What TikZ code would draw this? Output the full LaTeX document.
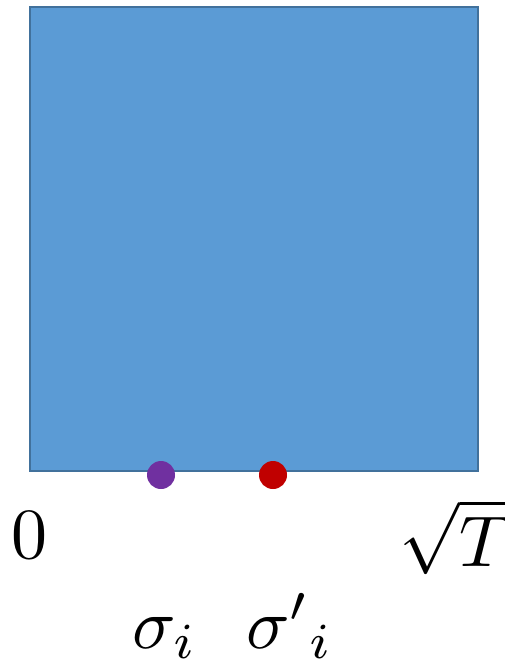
\documentclass[tikz,border=0pt]{standalone}
\usepackage{amsmath}
\usepackage{graphicx}
\definecolor{boxfill}{HTML}{5B9BD5}
\definecolor{boxline}{HTML}{41719C}
\definecolor{dotpurple}{HTML}{7030A0}
\definecolor{dotred}{HTML}{C00000}
\newcommand{\bigmath}[1]{\scalebox{7.2}{$#1$}}
\begin{document}
\begin{tikzpicture}[x=1pt,y=-1pt,
  lbl/.style={inner sep=0pt,anchor=base},
  dotmark/.style={circle,inner sep=0pt,minimum size=28pt}]
\useasboundingbox (0,0) rectangle (505,672);
\draw[fill=boxfill,draw=boxline,line width=2pt] (30,7) rectangle (478,471);
\node[dotmark,fill=dotpurple] (p) at (161,475) {};
\node[dotmark,fill=dotred] (r) at (273,475) {};
\node[lbl] (zero) at (30,558) {\bigmath{0}};
\node[lbl] (sqt) at (456,566) {\bigmath{\sqrt{T}}};
\node[lbl] (s1) at (165,648) {\bigmath{\sigma_i}};
\node[lbl] (s2) at (290,648) {\bigmath{{\sigma'}_i}};
\end{tikzpicture}
\end{document}
